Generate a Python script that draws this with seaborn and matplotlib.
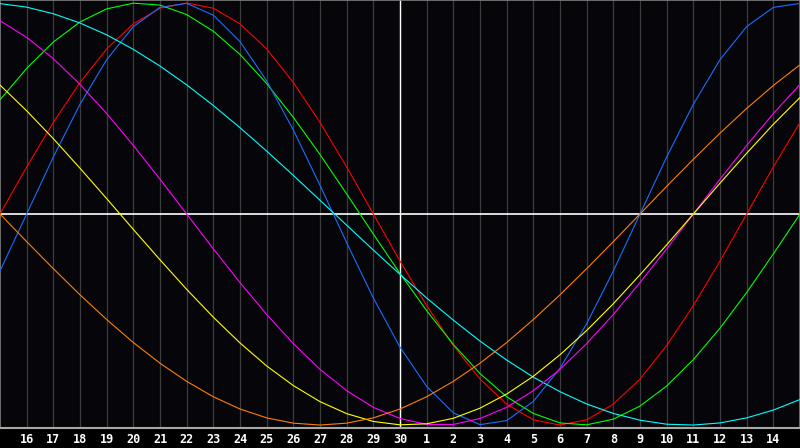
import pandas as pd
import matplotlib
matplotlib.use("Agg")
import matplotlib.pyplot as plt
import seaborn as sns

# day index 0..30, labels only on 1..29
day_labels = ["16", "17", "18", "19", "20", "21", "22", "23", "24", "25",
              "26", "27", "28", "29", "30", "1", "2", "3", "4", "5",
              "6", "7", "8", "9", "10", "11", "12", "13", "14"]

red = [0, 0.223, 0.434, 0.623, 0.782, 0.901, 0.975, 1.0, 0.975, 0.901,
       0.782, 0.623, 0.434, 0.223, 0, -0.223, -0.434, -0.623, -0.782, -0.901,
       -0.975, -1.0, -0.975, -0.901, -0.782, -0.623, -0.434, -0.223, 0, 0.223,
       0.434]
green = [0.541, 0.690, 0.815, 0.910, 0.972, 0.999, 0.990, 0.945, 0.866, 0.756,
         0.618, 0.458, 0.282, 0.095, -0.095, -0.282, -0.458, -0.618, -0.756, -0.866,
         -0.945, -0.990, -0.999, -0.972, -0.910, -0.815, -0.690, -0.541, -0.372, -0.189,
         0.0]
blue = [-0.270, 0, 0.270, 0.520, 0.731, 0.888, 0.979, 0.998, 0.942, 0.817,
        0.631, 0.398, 0.136, -0.136, -0.398, -0.631, -0.817, -0.942, -0.998, -0.979,
        -0.888, -0.731, -0.520, -0.270, 0, 0.270, 0.520, 0.731, 0.888, 0.979,
        0.998]
cyan = [0.997, 0.980, 0.949, 0.905, 0.849, 0.780, 0.701, 0.612, 0.514, 0.409,
        0.298, 0.183, 0.065, -0.053, -0.171, -0.286, -0.398, -0.503, -0.602, -0.692,
        -0.773, -0.842, -0.900, -0.945, -0.977, -0.996, -1.0, -0.990, -0.966, -0.929,
        -0.879]
magenta = [0.916, 0.837, 0.736, 0.614, 0.476, 0.325, 0.165, 0, -0.165, -0.325,
           -0.476, -0.614, -0.736, -0.837, -0.916, -0.969, -0.997, -0.997, -0.969, -0.916,
           -0.837, -0.736, -0.614, -0.476, -0.325, -0.165, 0, 0.165, 0.325, 0.476,
           0.614]
yellow = [0.611, 0.489, 0.357, 0.217, 0.073, -0.073, -0.217, -0.357, -0.489, -0.611,
          -0.720, -0.813, -0.889, -0.946, -0.983, -0.999, -0.994, -0.968, -0.920, -0.853,
          -0.769, -0.667, -0.552, -0.425, -0.288, -0.146, 0, 0.146, 0.288, 0.425,
          0.552]
orange = [0, -0.131, -0.259, -0.383, -0.5, -0.609, -0.707, -0.793, -0.866, -0.924,
          -0.966, -0.991, -1.0, -0.991, -0.966, -0.924, -0.866, -0.793, -0.707, -0.609,
          -0.5, -0.383, -0.259, -0.131, 0, 0.131, 0.259, 0.383, 0.5, 0.609,
          0.707]

series = {"red": red, "green": green, "blue": blue, "cyan": cyan,
          "magenta": magenta, "yellow": yellow, "orange": orange}
colors = {"red": "#ff0000", "green": "#00ff00", "blue": "#1a6eff", "cyan": "#00ffff",
          "magenta": "#ff00ff", "yellow": "#ffff00", "orange": "#ff8000"}

rows = []
for name, vals in series.items():
    for t, v in enumerate(vals):
        rows.append({"t": t, "v": v, "curve": name})
df = pd.DataFrame(rows)

sns.set_style("dark")
bg = "#060509"
fig = plt.figure(figsize=(8, 4.48), dpi=100, facecolor="#000000")
ax = fig.add_axes([0, 20 / 448, 1, 428 / 448])
ax.set_facecolor(bg)

# day grid
for t in range(1, 30):
    ax.axvline(t, color="#3c3c3c", lw=0.9, zorder=1)
ax.axvline(15, color="white", lw=1.0, zorder=2)
ax.axhline(0, color="white", lw=1.2, zorder=2)

sns.lineplot(data=df, x="t", y="v", hue="curve", palette=colors,
             hue_order=list(series.keys()), legend=False, lw=0.8, ax=ax, zorder=3)

ax.set_xlim(0, 30)
ax.set_ylim(-1.014, 1.014)
ax.set_xticks(range(1, 30))
ax.set_xticklabels(day_labels)
ax.set_yticks([])
ax.tick_params(axis="x", length=0, pad=3.5, colors="white")
for lab in ax.get_xticklabels():
    lab.set_fontfamily("DejaVu Sans Mono")
    lab.set_fontweight("bold")
    lab.set_fontsize(8.5)
ax.set_xlabel("")
ax.set_ylabel("")
ax.grid(False)
for side in ["left", "top", "right"]:
    ax.spines[side].set_visible(True)
    ax.spines[side].set_color("#808080")
    ax.spines[side].set_linewidth(1.2)
ax.spines["bottom"].set_color("#a8a8a8")
ax.spines["bottom"].set_linewidth(1.5)

fig.savefig("out.png", dpi=100, facecolor=fig.get_facecolor())
